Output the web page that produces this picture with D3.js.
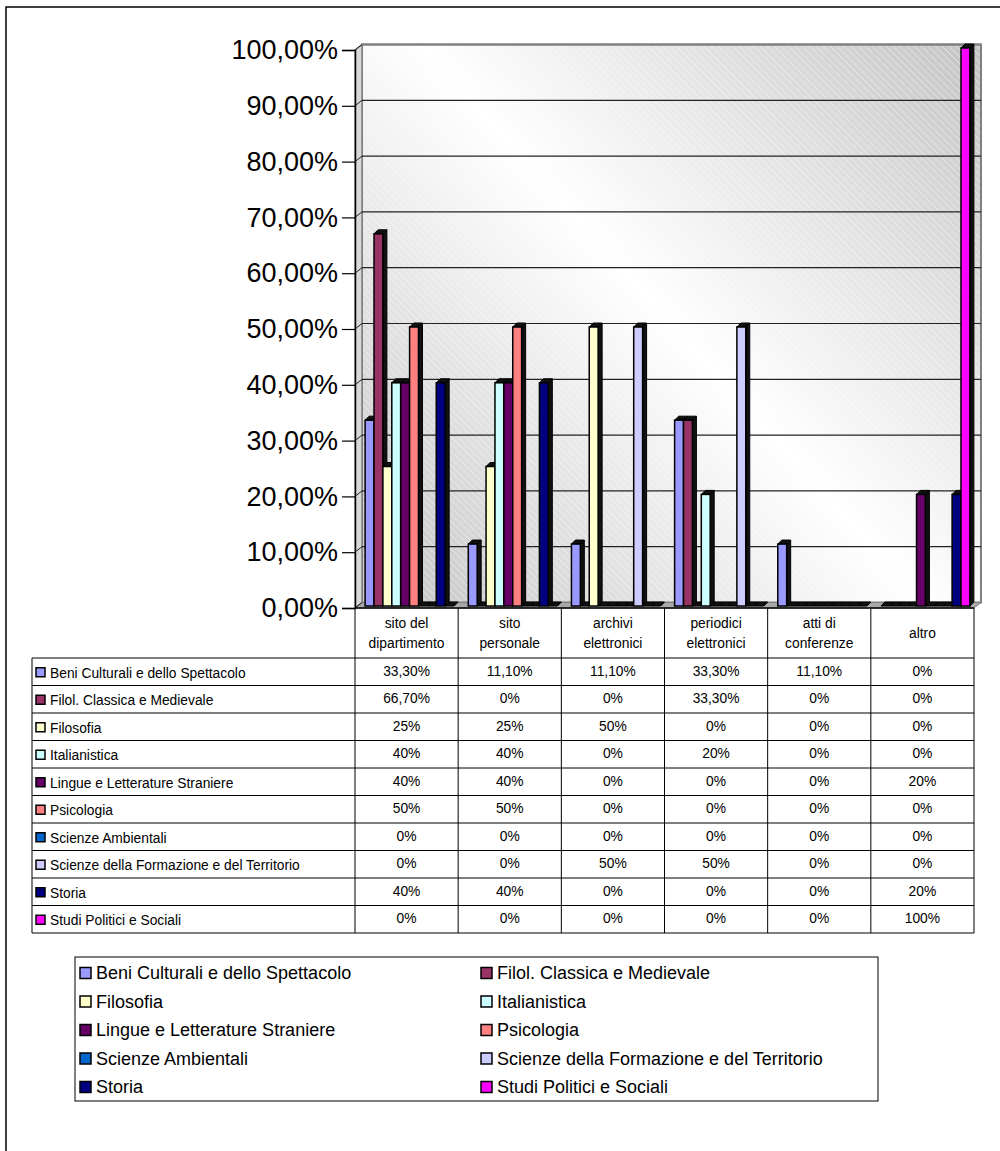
<!DOCTYPE html>
<html>
<head>
<meta charset="utf-8">
<script src="https://cdnjs.cloudflare.com/ajax/libs/d3/7.8.5/d3.min.js"></script>
<style>
body{margin:0;background:#fff;}
svg text{font-family:Arial,"Liberation Sans",sans-serif;fill:#000;}
</style>
</head>
<body>
<svg id="chart" width="1000" height="1151"></svg>
<script>
// categories (two lines each in the table header)
var categories = [["sito del","dipartimento"],["sito","personale"],["archivi","elettronici"],["periodici","elettronici"],["atti di","conferenze"],["altro"]];

var seriesNames = [
	"Beni Culturali e dello Spettacolo",
	"Filol. Classica e Medievale",
	"Filosofia",
	"Italianistica",
	"Lingue e Letterature Straniere",
	"Psicologia",
	"Scienze Ambientali",
	"Scienze della Formazione e del Territorio",
	"Storia",
	"Studi Politici e Sociali"
];
var seriesColors = ["#9999FF","#993366","#FFFFCC","#CCFFFF","#660066","#FF8080","#0066CC","#CCCCFF","#000080","#FF00FF"];

// percentages per category
var beniValues      = [33.3, 11.1, 11.1, 33.3, 11.1, 0];
var filolValues     = [66.7, 0, 0, 33.3, 0, 0];
var filosofiaValues = [25, 25, 50, 0, 0, 0];
var italValues      = [40, 40, 0, 20, 0, 0];
var lingueValues    = [40, 40, 0, 0, 0, 20];
var psicoValues     = [50, 50, 0, 0, 0, 0];
var ambValues       = [0, 0, 0, 0, 0, 0];
var formValues      = [0, 0, 50, 50, 0, 0];
var storiaValues    = [40, 40, 0, 0, 0, 20];
var politiciValues  = [0, 0, 0, 0, 0, 100];
var seriesValues = [beniValues, filolValues, filosofiaValues, italValues, lingueValues,
	psicoValues, ambValues, formValues, storiaValues, politiciValues];

var yTicks = [0,10,20,30,40,50,60,70,80,90,100];

var itLocale = d3.formatLocale({decimal: ",", thousands: ".", grouping: [3], currency: ["€", ""]});
var tickFmt = itLocale.format(".2%");
var cellFmt = function(v){
	if(Number.isInteger(v))
		return v + "%";
	else
		return v.toFixed(2).replace(".", ",") + "%";
};

var svg = d3.select("#chart");

// outer frame
svg.append("rect")
	.attr("x", 6).attr("y", 7).attr("width", 1000).attr("height", 1150)
	.attr("fill", "none").attr("stroke", "#000").attr("stroke-width", 1.5);

var left = 355, right = 974;
var wx = 7, wy = -5.5;     // back wall offset
var bdx = 3, bdy = -2;     // bars sit between front and back
var dd = 4;                // bar depth

var x = d3.scaleBand().domain(d3.range(categories.length)).range([left, right]).padding(0);
var xs = d3.scaleBand().domain(d3.range(seriesNames.length)).range([0, x.bandwidth()])
	.paddingInner(0).paddingOuter(0.8);
var y = d3.scaleLinear().domain([0, 100]).range([608, 50]);

var defs = svg.append("defs");
var grad = defs.append("linearGradient")
	.attr("id", "wallGrad")
	.attr("gradientUnits", "userSpaceOnUse")
	.attr("x1", left + wx).attr("y1", y(0) + wy)
	.attr("x2", right + wx).attr("y2", y(100) + wy);
grad.append("stop").attr("offset", "0").attr("stop-color", "#c4c4c4");
grad.append("stop").attr("offset", "0.5").attr("stop-color", "#ffffff");
grad.append("stop").attr("offset", "1").attr("stop-color", "#c4c4c4");

var hatch = defs.append("pattern")
	.attr("id", "hatch")
	.attr("patternUnits", "userSpaceOnUse")
	.attr("width", 7).attr("height", 7);
hatch.append("path")
	.attr("d", "M0,0L7,7M-1,6L1,8M6,-1L8,1")
	.attr("stroke", "#fff").attr("stroke-opacity", 0.45).attr("stroke-width", 1);

// back wall
svg.append("rect")
	.attr("x", left + wx).attr("y", y(100) + wy)
	.attr("width", right - left).attr("height", y(0) - y(100))
	.attr("fill", "url(#wallGrad)");
svg.append("rect")
	.attr("x", left + wx).attr("y", y(100) + wy)
	.attr("width", right - left).attr("height", y(0) - y(100))
	.attr("fill", "url(#hatch)")
	.attr("stroke", "#808080").attr("stroke-width", 2);

// side wall
svg.append("polygon")
	.attr("points", [[left, y(100)], [left + wx, y(100) + wy], [left + wx, y(0) + wy], [left, y(0)]].join(" "))
	.attr("fill", "#d8d8d8").attr("stroke", "#808080").attr("stroke-width", 1.5);

// floor
svg.append("polygon")
	.attr("points", [[left, y(0)], [right, y(0)], [right + wx, y(0) + wy], [left + wx, y(0) + wy]].join(" "))
	.attr("fill", "#a8a8a8").attr("stroke", "#808080");

// gridlines on the wall and their diagonal links to the axis
svg.selectAll(".grid")
	.data(yTicks.slice(1))
	.enter()
	.append("line")
	.attr("class", "grid")
	.attr("x1", left + wx).attr("x2", right + wx)
	.attr("y1", function(d) {return y(d) + wy;})
	.attr("y2", function(d) {return y(d) + wy;})
	.attr("stroke", function(d) {return d == 100 ? "#808080" : "#222";})
	.attr("stroke-width", function(d) {return d == 100 ? 2 : 1.2;});

svg.selectAll(".link")
	.data(yTicks)
	.enter()
	.append("line")
	.attr("class", "link")
	.attr("x1", left).attr("x2", left + wx)
	.attr("y1", function(d) {return y(d);})
	.attr("y2", function(d) {return y(d) + wy;})
	.attr("stroke", "#222");

// bars, drawn left to right so neighbours hide the side faces
var barW = xs.bandwidth();
var bars = [];
for (var c = 0; c < categories.length; c++){
	for (var s = 0; s < seriesNames.length; s++){
		bars.push({c: c, s: s, v: seriesValues[s][c]});
	}
}
var barG = svg.selectAll(".bar")
	.data(bars)
	.enter()
	.append("g")
	.attr("class", "bar");

barG.append("polygon")
	.attr("points", function(d) {
		var x0 = x(d.c) + xs(d.s) + bdx + barW, yt = y(d.v) + bdy, yb = y(0) + bdy;
		return [[x0, yt], [x0 + dd, yt - dd], [x0 + dd, yb - dd], [x0, yb]].join(" ");
	})
	.attr("fill", "#111").attr("stroke", "#000");

barG.append("polygon")
	.attr("points", function(d) {
		var x0 = x(d.c) + xs(d.s) + bdx, yt = y(d.v) + bdy;
		return [[x0, yt], [x0 + dd, yt - dd], [x0 + barW + dd, yt - dd], [x0 + barW, yt]].join(" ");
	})
	.attr("fill", "#111").attr("stroke", "#000");

barG.append("rect")
	.attr("x", function(d) {return x(d.c) + xs(d.s) + bdx;})
	.attr("y", function(d) {return y(d.v) + bdy;})
	.attr("width", barW)
	.attr("height", function(d) {return y(0) - y(d.v);})
	.attr("fill", function(d) {return seriesColors[d.s];})
	.attr("stroke", "#000").attr("stroke-width", 1.5);

// value axis
var yAxis = d3.axisLeft(y)
	.tickValues(yTicks.map(function(d) {return d;}))
	.tickFormat(function(d) {return tickFmt(d / 100);})
	.tickSize(13)
	.tickPadding(4);
var axisG = svg.append("g")
	.attr("transform", "translate(" + left + ",0)")
	.call(yAxis);
axisG.select(".domain").attr("stroke", "#000").attr("stroke-width", 1.5);
axisG.selectAll(".tick line").attr("stroke", "#000").attr("stroke-width", 1.2);
axisG.selectAll(".tick text")
	.style("font-family", "Arial, 'Liberation Sans', sans-serif")
	.style("font-size", "27px")
	.attr("fill", "#000");

// data table
var tableLeft = 32, headTop = 608, rowTop = 658, rowH = 27.5;
var nRows = seriesNames.length;
var tableBottom = rowTop + nRows * rowH;
var table = svg.append("g").attr("class", "table");

table.append("line")
	.attr("x1", left).attr("x2", right)
	.attr("y1", headTop).attr("y2", headTop)
	.attr("stroke", "#000").attr("stroke-width", 1.5);

table.selectAll(".hline")
	.data(d3.range(nRows + 1))
	.enter()
	.append("line")
	.attr("class", "hline")
	.attr("x1", tableLeft).attr("x2", right)
	.attr("y1", function(d) {return rowTop + d * rowH;})
	.attr("y2", function(d) {return rowTop + d * rowH;})
	.attr("stroke", "#000");

table.append("line")
	.attr("x1", tableLeft).attr("x2", tableLeft)
	.attr("y1", rowTop).attr("y2", tableBottom)
	.attr("stroke", "#000");

table.selectAll(".vline")
	.data(d3.range(categories.length + 1))
	.enter()
	.append("line")
	.attr("class", "vline")
	.attr("x1", function(d) {return d < categories.length ? x(d) : right;})
	.attr("x2", function(d) {return d < categories.length ? x(d) : right;})
	.attr("y1", headTop).attr("y2", tableBottom)
	.attr("stroke", "#000");

// header labels
table.selectAll(".head")
	.data(categories)
	.enter()
	.append("text")
	.attr("class", "head")
	.attr("text-anchor", "middle")
	.style("font-size", "13.8px")
	.each(function(d, i) {
		var t = d3.select(this);
		var cx = x(i) + x.bandwidth() / 2;
		var y0 = (headTop + rowTop) / 2 - (d.length - 1) * 10;
		d.forEach(function(line, k) {
			t.append("tspan")
				.attr("x", cx)
				.attr("y", y0 + k * 20)
				.attr("dy", "0.35em")
				.text(line);
		});
	});

// row labels with swatches
var rows = table.selectAll(".row")
	.data(seriesNames)
	.enter()
	.append("g")
	.attr("class", "row")
	.attr("transform", function(d, i) {return "translate(0," + (rowTop + i * rowH + rowH / 2) + ")";});

rows.append("rect")
	.attr("x", 36).attr("y", -4).attr("width", 9).attr("height", 9)
	.attr("fill", function(d, i) {return seriesColors[i];})
	.attr("stroke", "#000").attr("stroke-width", 1.5);

rows.append("text")
	.attr("x", 50).attr("y", 1)
	.attr("dy", "0.35em")
	.style("font-size", "13.8px")
	.text(function(d) {return d;});

rows.selectAll(".cell")
	.data(function(d, i) {return seriesValues[i];})
	.enter()
	.append("text")
	.attr("class", "cell")
	.attr("x", function(d, i) {return x(i) + x.bandwidth() / 2;})
	.attr("y", -1)
	.attr("dy", "0.35em")
	.attr("text-anchor", "middle")
	.style("font-size", "13.8px")
	.text(function(d) {return cellFmt(d);});

// legend
var legend = svg.append("g").attr("class", "legend");
legend.append("rect")
	.attr("x", 75).attr("y", 957).attr("width", 803).attr("height", 144)
	.attr("fill", "#fff").attr("stroke", "#000");

var items = legend.selectAll(".item")
	.data(seriesNames)
	.enter()
	.append("g")
	.attr("class", "item")
	.attr("transform", function(d, i) {
		return "translate(" + (80 + (i % 2) * 401) + "," + (973 + Math.floor(i / 2) * 28.5) + ")";
	});

items.append("rect")
	.attr("x", 0).attr("y", -5.5).attr("width", 11).attr("height", 11)
	.attr("fill", function(d, i) {return seriesColors[i];})
	.attr("stroke", "#000").attr("stroke-width", 1.5);

items.append("text")
	.attr("x", 16).attr("y", 0)
	.attr("dy", "0.35em")
	.style("font-size", "18px")
	.text(function(d) {return d;});
</script>
</body>
</html>
